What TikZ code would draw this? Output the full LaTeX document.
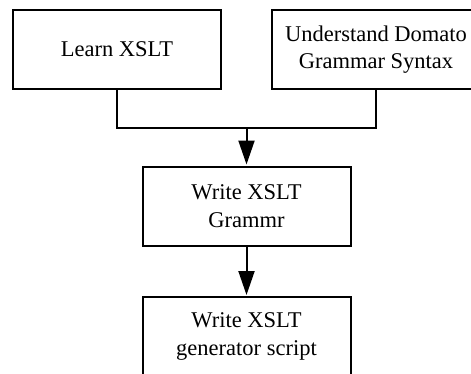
\documentclass[tikz,border=0pt]{standalone}
\usepackage{fontspec}
\setmainfont{Liberation Serif}
\usetikzlibrary{arrows.meta}
\begin{document}
\begin{tikzpicture}[x=1pt,y=-1pt,
  stepbox/.style={draw=black, line width=2pt, rectangle, minimum width=208pt,
    minimum height=79pt, inner sep=0pt, align=center,
    font=\fontsize{22.5pt}{27.5pt}\selectfont},
  link/.style={draw=black, line width=2pt},
  flow/.style={link, -{Triangle[length=24pt,width=16pt]}, shorten >=1pt}]
  \useasboundingbox (0,0) rectangle (471,373);
  \begin{scope}
    \clip (0,0) rectangle (471,373);
    \node[stepbox] (learn) at (117,49.5) {Learn XSLT};
    \node[stepbox] (domato) at (376,49.5) {Understand Domato\\Grammar Syntax};
    \node[stepbox] (grammar) at (246.5,206) {Write XSLT\\Grammr};
    \node[stepbox] (script) at (246.5,336.5) {Write XSLT\\generator script};
    \coordinate (join) at (246.5,128);
    \draw[link] (learn.south) |- (join) -| (domato.south);
    \draw[flow] (join) -- (grammar.north);
    \draw[flow] (grammar.south) -- (script.north);
  \end{scope}
\end{tikzpicture}
\end{document}
